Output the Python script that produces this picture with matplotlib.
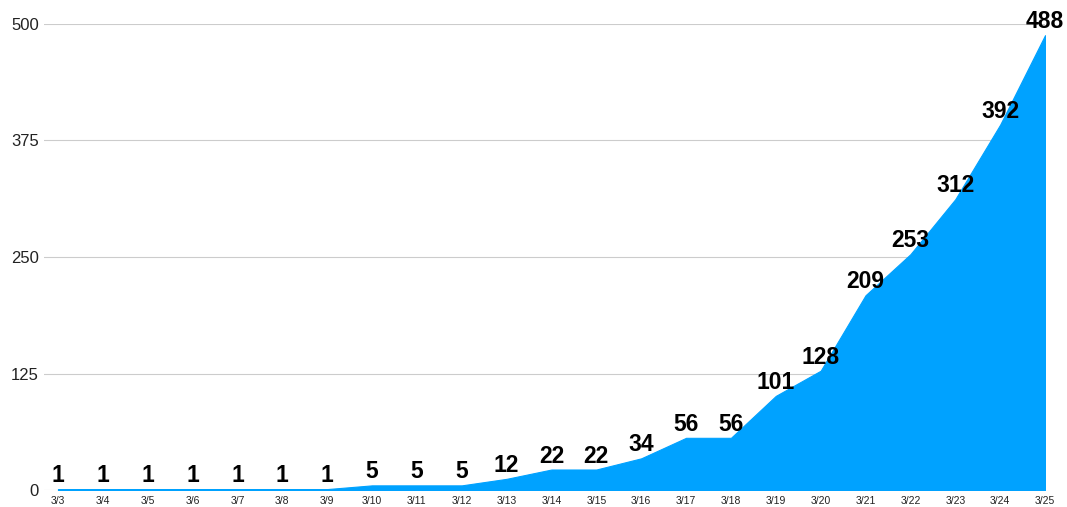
import matplotlib

matplotlib.use("Agg")
import matplotlib.pyplot as plt

# daily cumulative counts, 3/3 .. 3/25
dates = ["3/3", "3/4", "3/5", "3/6", "3/7", "3/8", "3/9", "3/10", "3/11", "3/12",
         "3/13", "3/14", "3/15", "3/16", "3/17", "3/18", "3/19", "3/20", "3/21",
         "3/22", "3/23", "3/24", "3/25"]
counts = [1, 1, 1, 1, 1, 1, 1, 5, 5, 5, 12, 22, 22, 34, 56, 56, 101, 128, 209,
          253, 312, 392, 488]
yticks = [0, 125, 250, 375, 500]

plt.rcParams["font.family"] = ["Liberation Sans", "DejaVu Sans"]

fig = plt.figure(figsize=(10.67, 5.07), dpi=100)
ax = fig.add_axes([0.0417, 0.0335, 0.9377, 0.9192])

x = list(range(len(dates)))
ax.fill_between(x, counts, 0, color="#00A2FF", linewidth=0.8, edgecolor="#00A2FF", zorder=2)

for xi, v in zip(x, counts):
    ax.annotate(str(v), (xi, v), xytext=(0, 5), textcoords="offset points",
                ha="center", va="baseline", fontsize=16.5, fontweight="bold",
                color="black", annotation_clip=False, zorder=3)

ax.set_xlim(-0.3, len(dates) - 1)
ax.set_ylim(0, 500)
ax.set_xticks(x)
ax.set_xticklabels(dates, fontsize=7.5, color="#222222")
ax.set_yticks(yticks)
ax.set_yticklabels([str(t) for t in yticks], fontsize=12, color="#222222")
ax.tick_params(axis="both", length=0)
ax.tick_params(axis="x", pad=4)
ax.tick_params(axis="y", pad=4)
ax.grid(axis="y", color="#CCCCCC", linewidth=0.8, zorder=0)
ax.set_axisbelow(True)
for s in ax.spines.values():
    s.set_visible(False)

fig.savefig("out.png", dpi=100)
